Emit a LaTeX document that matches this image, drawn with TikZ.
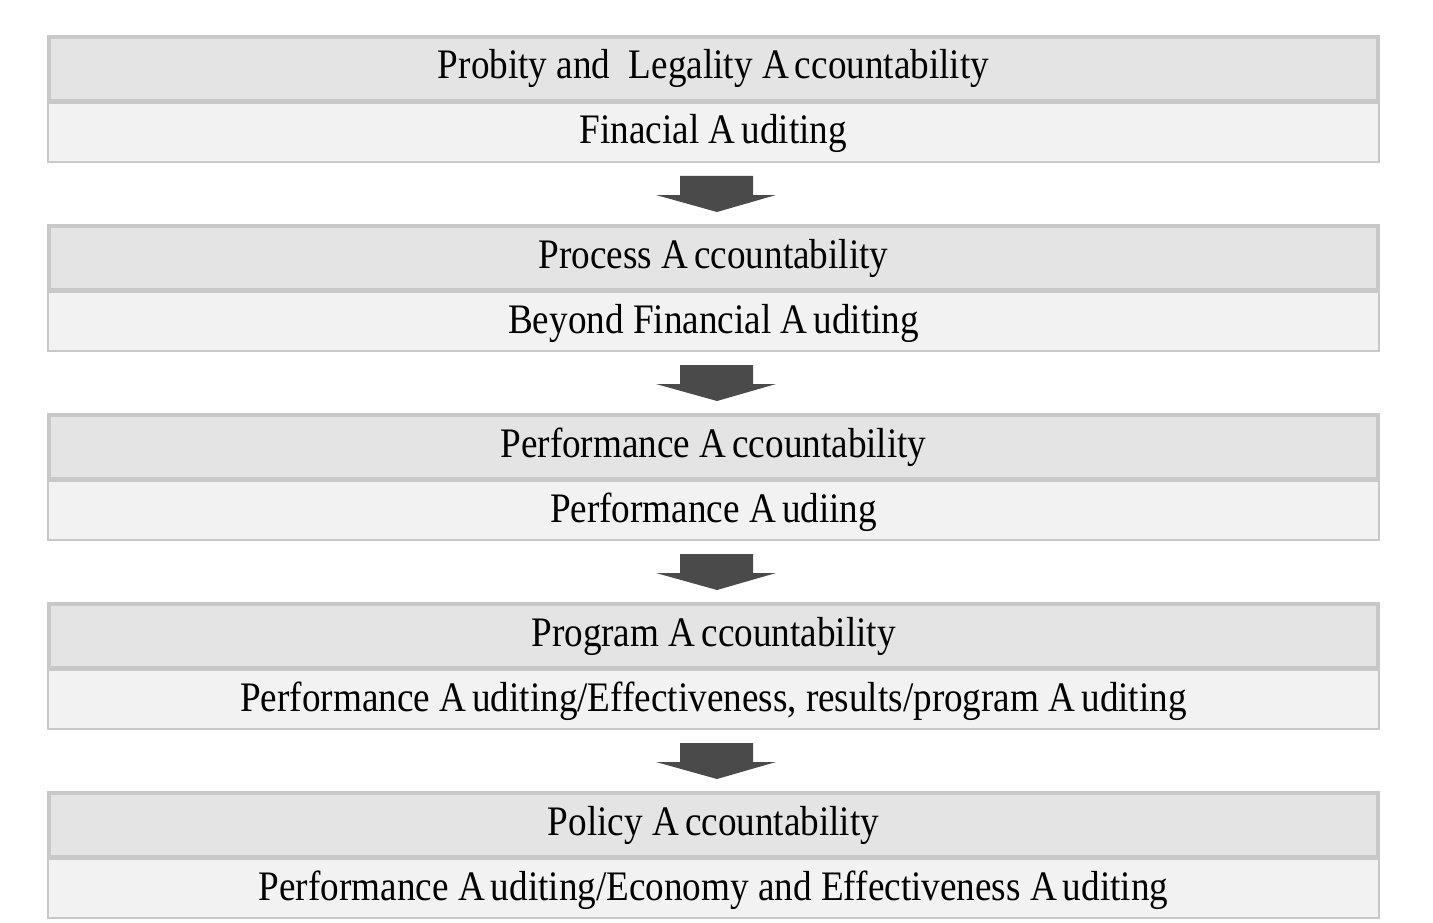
\documentclass[tikz,border=0pt]{standalone}
\usepackage{fontspec}
\setmainfont{Liberation Serif}[FakeStretch=0.885]
\definecolor{hdrfill}{HTML}{E4E4E4}
\definecolor{subfill}{HTML}{F2F2F2}
\definecolor{boxline}{HTML}{C8C8C8}
\definecolor{arrfill}{HTML}{4A4A4A}
\newcommand\wideA{A\kern6pt\relax}
\tikzset{
  hdrbox/.style={draw=boxline, fill=hdrfill, line width=4pt},
  subbox/.style={draw=boxline, fill=subfill, line width=2pt},
  lbl/.style={anchor=base, inner sep=0pt, font=\fontsize{42}{46}\selectfont},
  darr/.pic={\fill[arrfill] (-37,0) -- (36,0) -- (36,19) -- (59,19) -- (0,36) -- (-61,19) -- (-37,19) -- cycle;}
}
\begin{document}
\begin{tikzpicture}[x=1pt,y=-1pt]
\useasboundingbox (0,0) rectangle (1433,923);
\fill[white] (0,0) rectangle (1433,923);
\foreach \t/\h/\s [count=\i] in {35/{Probity and\ \ Legality \wideA ccountability}/{Finacial \wideA uditing},
  224/{Process \wideA ccountability}/{Beyond Financial \wideA uditing},
  413/{Performance \wideA ccountability}/{Performance \wideA udiing},
  602/{Program \wideA ccountability}/{Performance \wideA uditing/Effectiveness, results/program \wideA uditing},
  791/{Policy \wideA ccountability}/{Performance \wideA uditing/Economy and Effectiveness \wideA uditing}}{
  \draw[subbox] (48,\t+68) rectangle (1379,\t+127);
  \draw[hdrbox] (49,\t+2) rectangle (1378,\t+66);
  \node[lbl] (h\i) at (713.5,\t+44) {\h};
  \node[lbl] (s\i) at (713.5,\t+109) {\s};
}
\foreach \y [count=\i] in {176,365,554,743}{
  \coordinate (a\i) at (717,\y);
  \pic at (a\i) {darr};
}
\end{tikzpicture}
\end{document}
